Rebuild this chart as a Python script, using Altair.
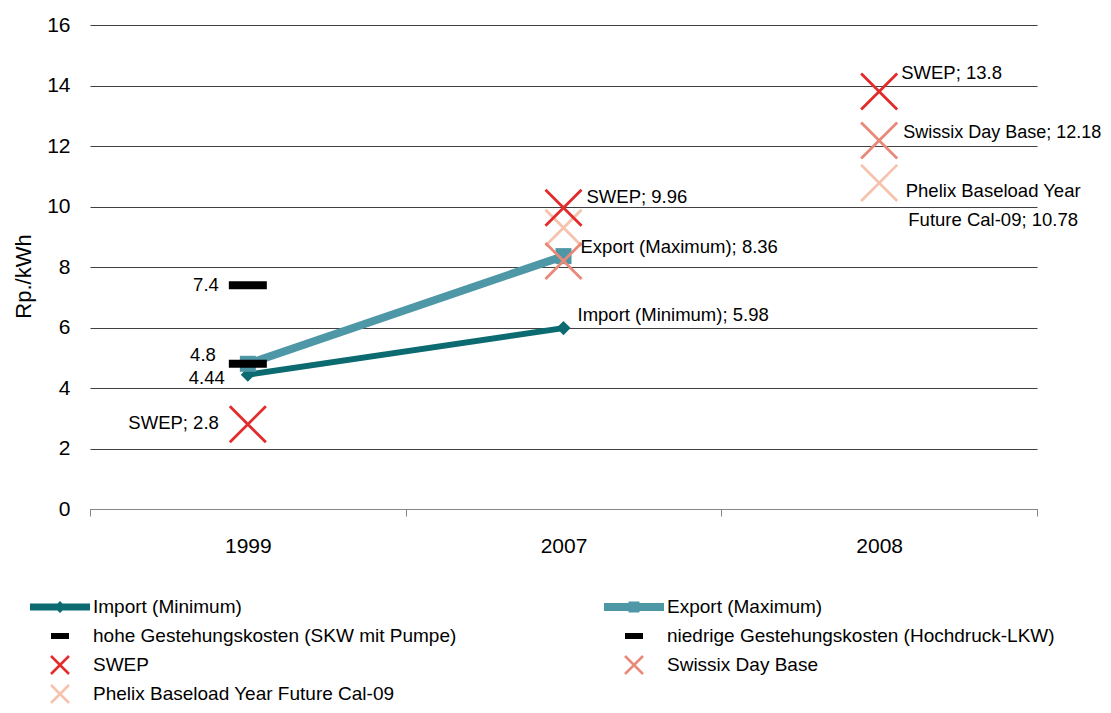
import altair as alt
import pandas as pd

# ---- data ----
years = ["1999", "2007", "2008"]
series_names = [
    "Import (Minimum)",
    "Export (Maximum)",
    "hohe Gestehungskosten (SKW mit Pumpe)",
    "niedrige Gestehungskosten (Hochdruck-LKW)",
    "SWEP",
    "Swissix Day Base",
    "Phelix Baseload Year Future Cal-09",
]
import_min = [4.44, 5.98, None]
export_max = [4.8, 8.36, None]
hohe = [7.4, None, None]
niedrige = [4.8, None, None]
swep = [2.8, 9.96, 13.8]
swissix = [None, 8.2, 12.18]
phelix = [None, 9.3, 10.78]

label_series = ["hohe Gestehungskosten (SKW mit Pumpe)", "niedrige Gestehungskosten (Hochdruck-LKW)",
                "Import (Minimum)", "SWEP", "SWEP", "Export (Maximum)", "Import (Minimum)",
                "SWEP", "Swissix Day Base", "Phelix Baseload Year Future Cal-09"]
label_years = ["1999", "1999", "1999", "1999", "2007", "2007", "2007", "2008", "2008", "2008"]
label_texts = ["7.4", "4.8", "4.44", "SWEP; 2.8", "SWEP; 9.96", "Export (Maximum); 8.36",
               "Import (Minimum); 5.98", "SWEP; 13.8", "Swissix Day Base; 12.18",
               "Phelix Baseload Year\nFuture Cal-09; 10.78"]

values = [import_min, export_max, hohe, niedrige, swep, swissix, phelix]
rows = []
for name, vals in zip(series_names, values):
    for y, v in zip(years, vals):
        if v is not None:
            rows.append({"series": name, "year": y, "value": v})
df = pd.DataFrame(rows)

lab_rows = []
for s, y, t in zip(label_series, label_years, label_texts):
    v = df[(df.series == s) & (df.year == y)].value.iloc[0]
    lab_rows.append({"series": s, "year": y, "value": v, "text": t})
labdf = pd.DataFrame(lab_rows)

# ---- style ----
FONT = "Liberation Sans"
colors = ["#0b6b70", "#4e97a6", "#000000", "#000000", "#e32b2b", "#e8897a", "#f5c3ad"]

s_, w_ = 0.9, 0.09
x_path = (f"M{-s_+w_},{-s_-w_}L{s_+w_},{s_-w_}L{s_-w_},{s_+w_}L{-s_-w_},{-s_+w_}Z"
          f"M{s_+w_},{-s_+w_}L{-s_+w_},{s_+w_}L{-s_-w_},{s_-w_}L{s_-w_},{-s_-w_}Z")
line_diamond = "M-3,-0.35L3,-0.35L3,0.35L-3,0.35ZM0,-0.6L0.6,0L0,0.6L-0.6,0Z"
line_square = "M-3,-0.4L3,-0.4L3,0.4L-3,0.4ZM-0.55,-0.55L0.55,-0.55L0.55,0.55L-0.55,0.55Z"
dash_path = "M-0.9,-0.3L0.9,-0.3L0.9,0.3L-0.9,0.3Z"
shapes = [line_diamond, line_square, dash_path, dash_path, x_path, x_path, x_path]

X = alt.X("year:N", scale=alt.Scale(domain=years, paddingInner=0, paddingOuter=0),
          axis=alt.Axis(title=None, labelAngle=0, tickBand="extent", domainColor="#868686",
                        tickColor="#868686", tickSize=7, labelPadding=19, labelFontSize=21,
                        grid=False))
Y = alt.Y("value:Q", scale=alt.Scale(domain=[0, 16]),
          axis=alt.Axis(title="Rp./kWh", values=list(range(0, 17, 2)), domain=False, ticks=False,
                        gridColor="#404040", gridWidth=1, labelPadding=20, labelFontSize=21,
                        titleFontSize=22, titleFontWeight="normal", titleX=-67, titleY=251,
                        titleAngle=270, titleBaseline="middle", titleAlign="center"))

base = alt.Chart(df)

def sel(name):
    return base.transform_filter(alt.datum.series == name)

layers = []
layers.append(sel("Import (Minimum)").mark_line(color=colors[0], strokeWidth=6).encode(x=X, y=Y))
layers.append(sel("Export (Maximum)").mark_line(color=colors[1], strokeWidth=8).encode(x=X, y=Y))
layers.append(sel("Import (Minimum)").mark_point(shape="diamond", filled=True, opacity=1,
                                                 color=colors[0], size=200).encode(x=X, y=Y))
layers.append(sel("Export (Maximum)").mark_point(shape="square", filled=True, opacity=1,
                                                 color=colors[1], size=256).encode(x=X, y=Y))
for nm in series_names[2:4]:
    layers.append(sel(nm).mark_tick(color="#000000", opacity=1, size=38, thickness=8).encode(x=X, y=Y))
for nm, c in [(series_names[6], colors[6]), (series_names[5], colors[5]), (series_names[4], colors[4])]:
    layers.append(sel(nm).mark_point(shape="M-1,-1L1,1M-1,1L1,-1", filled=False, opacity=1,
                                     color=c, strokeWidth=2.8, size=1300).encode(x=X, y=Y))

legend = alt.Legend(title=None, orient="none", legendX=-40, legendY=572, direction="horizontal",
                    columns=2, symbolSize=400, labelFontSize=19,
                    labelOffset=23, columnPadding=147, rowPadding=9, labelLimit=0,
                    labelFont=FONT, symbolStrokeWidth=0)

# legend driver (clipped out of view)
legend_layer = base.transform_aggregate(n="count()", groupby=["series"]).transform_calculate(
    off="-50").mark_point(filled=True, opacity=1, clip=True).encode(
    x=alt.value(10),
    y=alt.Y("off:Q"),
    color=alt.Color("series:N", scale=alt.Scale(domain=series_names, range=colors), legend=legend),
    shape=alt.Shape("series:N", scale=alt.Scale(domain=series_names, range=shapes), legend=legend),
)
layers.append(legend_layer)

# labels
offsets = [
    dict(dx=-29, dy=0, align="right", baseline="middle"),
    dict(dx=-32, dy=-9, align="right", baseline="middle"),
    dict(dx=-23, dy=3, align="right", baseline="middle"),
    dict(dx=-29, dy=-1, align="right", baseline="middle"),
    dict(dx=23, dy=-11, align="left", baseline="middle"),
    dict(dx=17, dy=-9, align="left", baseline="middle"),
    dict(dx=14, dy=-13, align="left", baseline="middle"),
    dict(dx=22, dy=-19, align="left", baseline="middle"),
    dict(dx=24, dy=-8, align="left", baseline="middle", fontSize=18),
    dict(dx=114, dy=-1, align="center", baseline="top", lineHeight=29),
]
for i, off in enumerate(offsets):
    kw = dict(font=FONT, fontSize=18.5, color="#000000", lineBreak="\n")
    kw.update(off)
    layers.append(alt.Chart(labdf).transform_filter(
        (alt.datum.text == label_texts[i]) & (alt.datum.year == label_years[i])
    ).mark_text(**kw).encode(x=X, y=Y, text="text:N"))

chart = alt.layer(*layers).properties(
    width=947, height=484,
    autosize=alt.AutoSizeParams(type="none"),
    padding={"left": 82, "top": 17, "right": 66, "bottom": 196},
).configure(font=FONT).configure_view(stroke=None).configure_axis(
    labelFont=FONT, titleFont=FONT, labelColor="#000000", titleColor="#000000"
).configure_legend(padding=0)

chart.save("out.html", embed_options={"renderer": "svg", "actions": False})
